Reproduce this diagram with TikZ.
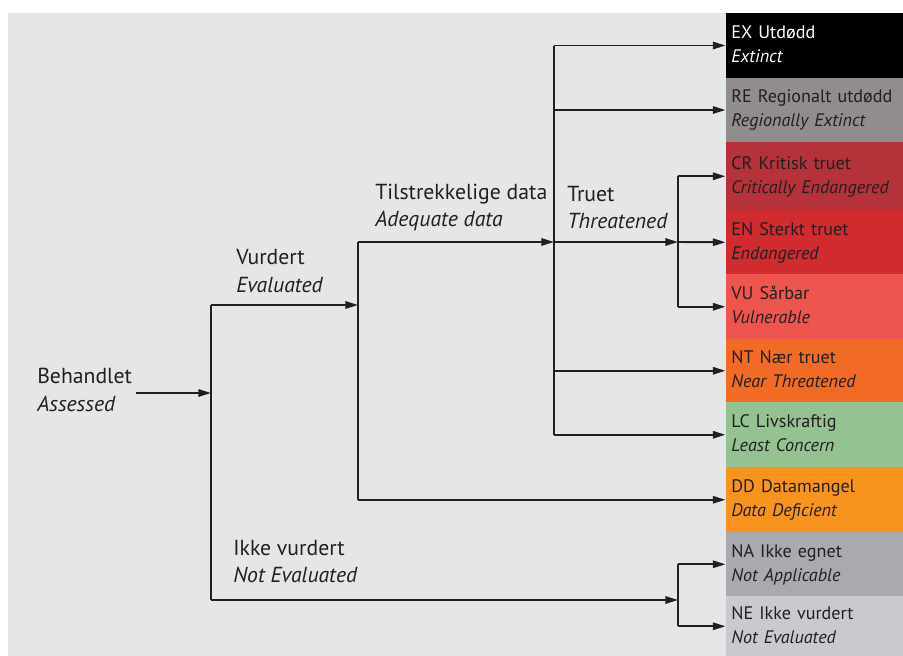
\documentclass[tikz,border=0pt]{standalone}
\usepackage{fontspec}
\setmainfont{PT Sans}
\usetikzlibrary{arrows.meta}
\definecolor{bgc}{HTML}{E5E6E8}
\definecolor{txt}{HTML}{231F20}
\definecolor{cEX}{HTML}{000000}
\definecolor{cRE}{HTML}{918D8C}
\definecolor{cCR}{HTML}{B5323A}
\definecolor{cEN}{HTML}{D02B2F}
\definecolor{cVU}{HTML}{EF554F}
\definecolor{cNT}{HTML}{F26B24}
\definecolor{cLC}{HTML}{95C291}
\definecolor{cDD}{HTML}{F7941E}
\definecolor{cNA}{HTML}{A8AAAD}
\definecolor{cNE}{HTML}{C8CACD}
\newcommand{\twolines}[2]{\raisebox{2.4pt}{\begin{tabular}{@{}l@{}}#1\\\textit{#2}\end{tabular}}}
\begin{document}
\begin{tikzpicture}[x=0.75pt,y=-0.75pt,
  lbl/.style={anchor=west,align=left,inner sep=0pt,text=txt,font=\fontsize{16.3}{20.5}\selectfont},
  catbox/.style 2 args={anchor=north west,fill=#1,minimum width=133.2pt,minimum height=#2*0.75pt,
    inner xsep=4.2pt,inner ysep=0pt,text width=124.8pt,align=left,text=txt,
    font=\fontsize{13.6}{18}\selectfont},
  conn/.style={line width=1.45pt,draw=txt},
  arr/.style={conn,-{Triangle[length=9.5pt,width=5.5pt]}}]
\useasboundingbox (0,0) rectangle (903,656);
\fill[white] (0,0) rectangle (903,656);
\fill[bgc] (8,13) rectangle (903,656);
% category boxes
\node[catbox={cEX}{64.5},text=white] (ex) at (725.5,13) {\twolines{EX Utdødd}{Extinct}};
\node[catbox={cRE}{64.5}] (re) at (725.5,77.5) {\twolines{RE Regionalt utdødd}{Regionally Extinct}};
\node[catbox={cCR}{68}] (cr) at (725.5,142) {\twolines{CR Kritisk truet}{Critically Endangered}};
\node[catbox={cEN}{64}] (en) at (725.5,210) {\twolines{EN Sterkt truet}{Endangered}};
\node[catbox={cVU}{65}] (vu) at (725.5,274) {\twolines{VU Sårbar}{Vulnerable}};
\node[catbox={cNT}{63}] (nt) at (725.5,339) {\twolines{NT Nær truet}{Near Threatened}};
\node[catbox={cLC}{65}] (lc) at (725.5,402) {\twolines{LC Livskraftig}{Least Concern}};
\node[catbox={cDD}{65}] (dd) at (725.5,467) {\twolines{DD Datamangel}{Data Deficient}};
\node[catbox={cNA}{64}] (na) at (725.5,532) {\twolines{NA Ikke egnet}{Not Applicable}};
\node[catbox={cNE}{60}] (ne) at (725.5,596) {\twolines{NE Ikke vurdert}{Not Evaluated}};
% labels
\node[lbl] (beh) at (37,390) {Behandlet\\\textit{Assessed}};
\node[lbl] (vur) at (236,271) {Vurdert\\\textit{Evaluated}};
\node[lbl] (til) at (375,207.5) {Tilstrekkelige data\\\textit{Adequate data}};
\node[lbl] (tru) at (567,207.5) {Truet\\\textit{Threatened}};
\node[lbl] (ikk) at (233,561.5) {Ikke vurdert\\\textit{Not Evaluated}};
% junctions
\coordinate (c1t) at (211,305);
\coordinate (c1m) at (211,393);
\coordinate (c1b) at (211,600);
\coordinate (c2m) at (358,305);
\coordinate (c3m) at (554,242);
\coordinate (c4m) at (678,242);
\coordinate (c5m) at (678,600);
% vertical trunks
\draw[conn] (c1t) -- (c1b);
\draw[conn] (c3m -| c2m) -- (dd.west -| c2m);
\draw[conn] (ex.west -| c3m) -- (lc.west -| c3m);
\draw[conn] (cr.west -| c4m) -- (vu.west -| c4m);
\draw[conn] (na.west -| c5m) -- (ne.west -| c5m);
% arrows
\draw[arr] (beh.east |- c1m) ++(4,0) -- (c1m);
\draw[arr] (c1t) -- (c2m);
\draw[arr] (c1b) -- (c5m);
\draw[arr] (c3m -| c2m) -- (c3m);
\draw[arr] (dd.west -| c2m) -- (dd.west);
\draw[arr] (c3m) -- (c4m);
\draw[arr] (ex.west -| c3m) -- (ex.west);
\draw[arr] (re.west -| c3m) -- (re.west);
\draw[arr] (nt.west -| c3m) -- (nt.west);
\draw[arr] (lc.west -| c3m) -- (lc.west);
\draw[arr] (cr.west -| c4m) -- (cr.west);
\draw[arr] (c4m) -- (en.west);
\draw[arr] (vu.west -| c4m) -- (vu.west);
\draw[arr] (na.west -| c5m) -- (na.west);
\draw[arr] (ne.west -| c5m) -- (ne.west);
\end{tikzpicture}
\end{document}
